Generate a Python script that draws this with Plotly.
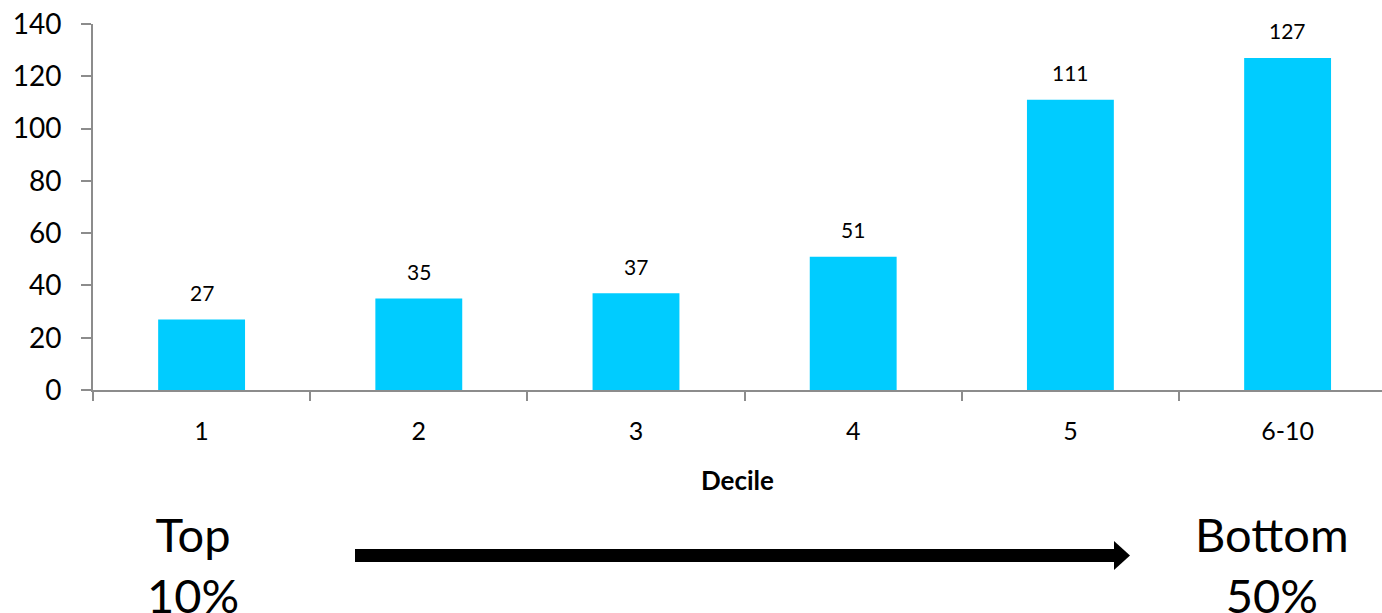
import plotly.graph_objects as go

deciles = ["1", "2", "3", "4", "5", "6-10"]
values = [27, 35, 37, 51, 111, 127]
y_ticks = [0, 20, 40, 60, 80, 100, 120, 140]

FONT = "Lato, Open Sans, sans-serif"
AXIS_COLOR = "#8c8c8c"

fig = go.Figure()
fig.add_trace(go.Bar(
    x=deciles, y=values, width=0.4,
    marker=dict(color="#00CCFF", line=dict(width=0)),
    showlegend=False, hoverinfo="skip",
))

# value labels above bars (category index positions)
for i, v in enumerate(values):
    fig.add_annotation(x=i, y=v, text=str(v), showarrow=False, yshift=27,
                       font=dict(size=21, color="black", family=FONT))

W, H = 1382, 613
L, T, B = 93, 24, 223
pw = W - L
ph = H - T - B

def px(xp):
    return (xp - L) / pw

def py(yp):
    return (H - B - yp) / ph

# Top / Bottom labels
fig.add_annotation(xref="paper", yref="paper", x=px(193), y=py(564), text="Top<br>10%",
                   showarrow=False, font=dict(size=47, color="black", family=FONT),
                   xanchor="center", yanchor="middle", align="center")
fig.add_annotation(xref="paper", yref="paper", x=px(1272), y=py(564), text="Bottom<br>50%",
                   showarrow=False, font=dict(size=47, color="black", family=FONT),
                   xanchor="center", yanchor="middle", align="center")

# arrow
fig.add_shape(type="rect", xref="paper", yref="paper",
              x0=px(355), x1=px(1116), y0=py(562), y1=py(549),
              fillcolor="black", line=dict(width=0))
fig.add_shape(type="path", xref="paper", yref="paper",
              path=f"M {px(1114)} {py(541)} L {px(1130)} {py(555.5)} L {px(1114)} {py(570)} Z",
              fillcolor="black", line=dict(width=0))

fig.update_layout(
    width=W, height=H,
    margin=dict(l=L, r=0, t=T, b=B, pad=0),
    paper_bgcolor="white", plot_bgcolor="white",
    bargap=0.6,
    font=dict(family=FONT, color="black"),
    xaxis=dict(
        type="category", range=[-0.5, -0.5 + pw / 217.2],
        showline=True, linecolor=AXIS_COLOR, linewidth=2,
        ticks="outside", tickson="boundaries", ticklen=9, tickwidth=2, tickcolor=AXIS_COLOR,
        tickfont=dict(size=25, family=FONT, color="black"),
        ticklabelstandoff=18,
        showgrid=False, zeroline=False,
        title=dict(text="<b>Decile</b>", font=dict(size=26, family=FONT, color="black"), standoff=28),
    ),
    yaxis=dict(
        range=[0, 140], tickvals=y_ticks,
        showline=True, linecolor=AXIS_COLOR, linewidth=2,
        ticks="outside", ticklen=10, tickwidth=2, tickcolor=AXIS_COLOR,
        tickfont=dict(size=28, family=FONT, color="black"),
        ticklabelstandoff=14,
        showgrid=False, zeroline=False,
    ),
)

fig.write_html("out.html")
